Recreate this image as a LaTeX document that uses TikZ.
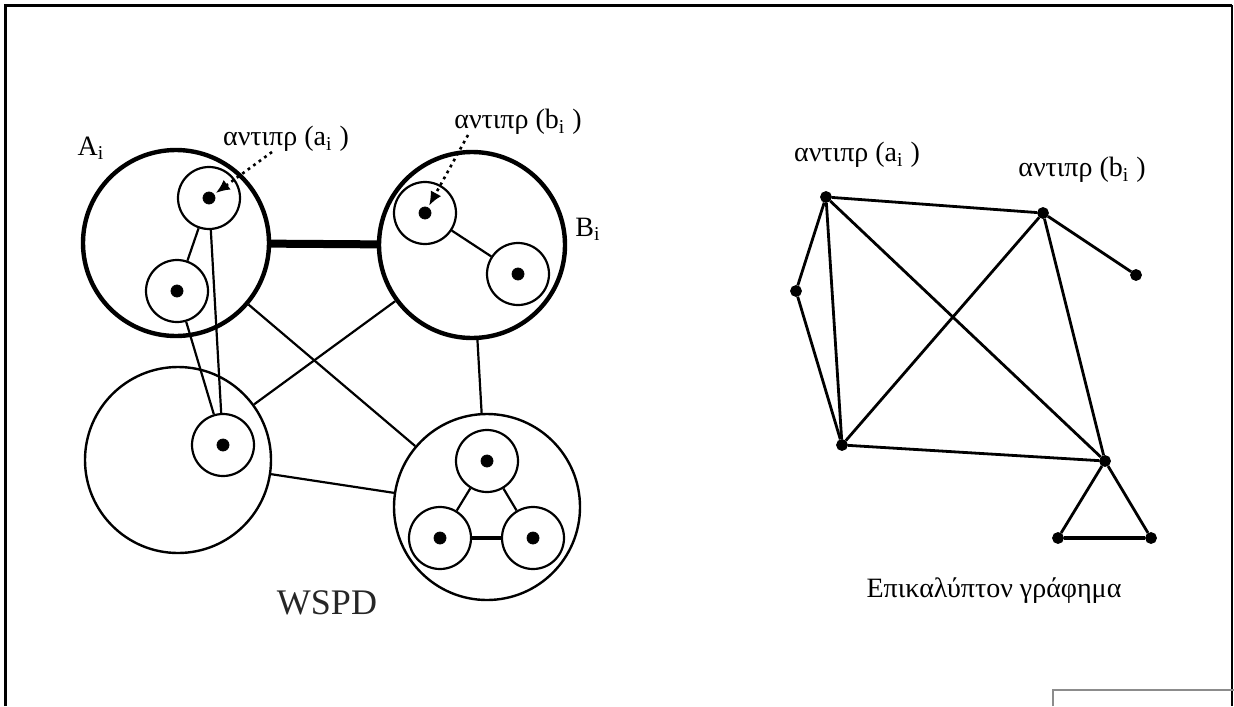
\documentclass[tikz,border=0pt]{standalone}
\usepackage{fontspec}
\setmainfont{Liberation Serif}
\usetikzlibrary{arrows.meta}

\begin{document}
\begin{tikzpicture}[
    x=0.5pt,y=-0.5pt,
    cluster/.style={draw,circle,line width=1.2pt,inner sep=0pt,minimum size=93pt},
    pair/.style={cluster,line width=2.2pt},
    cell/.style={draw,circle,line width=1.1pt,inner sep=0pt,minimum size=31pt},
    dot/.style={draw,fill,circle,inner sep=0pt,minimum size=5.5pt},
    edge/.style={line width=1.1pt},
    lbl/.style={font=\fontsize{14}{16}\selectfont},
    rep/.style={dash pattern=on 1.4pt off 2pt,line width=1.3pt,shorten >=1pt,-{Latex[length=7pt,width=6pt]}}
  ]
  \useasboundingbox (0,0) rectangle (1234,706);
  \draw[line width=1.5pt] (5.5,706) -- (5.5,5.5) -- (1232,5.5);
  \draw[line width=1pt] (1232,5.5) -- (1232,706);
  \draw[black!45,line width=1pt] (1053,706) -- (1053,690) -- (1234,690);

  % WSPD
  \node[pair] (A) at (176,243) {};
  \node[pair] (B) at (472,245) {};
  \node[cluster] (C) at (178,460) {};
  \node[cluster] (D) at (487,507) {};
  \foreach \n/\x/\y in {a1/209/198,a2/177/291,b1/425/213,b2/518/274,c1/223/445,d1/487/461,d2/440/538,d3/533/538} {
      \node[cell] (\n) at (\x,\y) {};
      \node[dot,minimum size=6pt] (\n p) at (\x,\y) {};
    }
  \draw[line width=4pt] (A) -- (B);
  \foreach \u/\v in {A/D,B/C,B/D,C/D,a1/a2,a1/c1,a2/c1,b1/b2,d1/d2,d1/d3} {
      \draw[edge] (\u) -- (\v);
    }
  \draw[edge,line width=1.6pt] (d2) -- (d3);

  \node[lbl] (Al) at (91,148) {A\textsubscript{i}};
  \node[lbl] (Bl) at (588,229) {B\textsubscript{i}};
  \node[lbl] (ra) at (286,139) {αντιπρ (a\textsubscript{i} )};
  \node[lbl] (rb) at (518,122) {αντιπρ (b\textsubscript{i} )};
  \coordinate (ra0) at (272,152);
  \coordinate (rb0) at (468,135);
  \draw[rep] (ra0) -- (a1p);
  \draw[rep] (rb0) -- (b1p);
  \node[font=\fontsize{18}{20}\selectfont,text=black!85] (wspd) at (327,603) {WSPD};

  % spanner
  \foreach \n/\x/\y in {p1/826/197,p2/1043/213,p3/1136/275,p4/796/291,p5/842/445,p6/1105/461,p7/1058/538,p8/1151/538} {
      \node[dot] (\n) at (\x,\y) {};
    }
  \foreach \u/\v in {p1/p2,p1/p4,p1/p5,p1/p6,p2/p5,p2/p6,p2/p3,p4/p5,p5/p6,p6/p7,p6/p8} {
      \draw[edge,line width=1.4pt] (\u) -- (\v);
    }
  \draw[edge,line width=1.9pt] (p7) -- (p8);

  \node[lbl] (ga) at (857,155) {αντιπρ (a\textsubscript{i} )};
  \node[lbl] (gb) at (1082,170) {αντιπρ (b\textsubscript{i} )};
  \node[lbl] (cap) at (994,591) {Επικαλύπτον γράφημα};
\end{tikzpicture}
\end{document}
